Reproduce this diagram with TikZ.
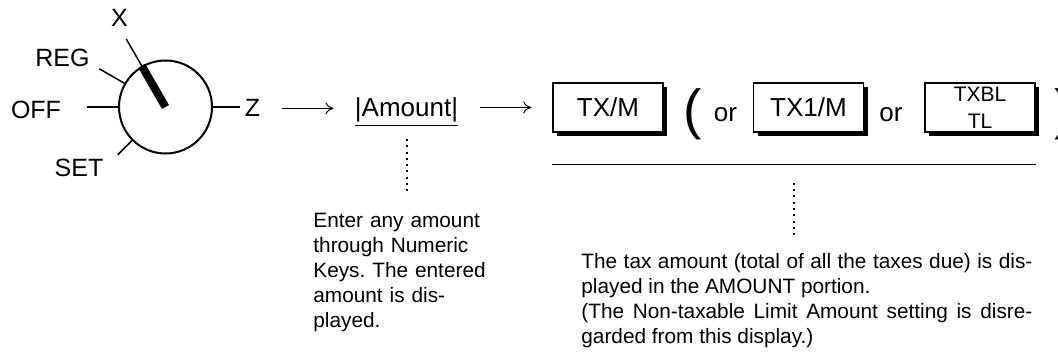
\documentclass[tikz,border=0pt]{standalone}
\usepackage{fontspec}
\setmainfont{Liberation Sans}
\usetikzlibrary{arrows.meta,positioning,shadows}
\frenchspacing

\begin{document}
\begin{tikzpicture}[x=0.5pt,y=-0.5pt,every node/.style={inner sep=0pt,font=\fontsize{12.5}{15}\selectfont},
 key/.style={draw,line width=0.75pt,fill=white,minimum width=55pt,minimum height=24.5pt,font=\fontsize{13}{15}\selectfont,
  drop shadow={shadow xshift=2pt,shadow yshift=-2pt,fill=black,opacity=1}},
 tick/.style={line width=0.75pt},
 arr/.style={-{To[length=4pt,width=6pt]},line width=0.5pt,shorten <=10.75pt,shorten >=10.5pt},
 dotline/.style={line width=1pt,dash pattern=on 1pt off 2.15pt},
 note/.style={anchor=north west,font=\fontsize{10.4}{12.5}\selectfont},
 paren/.style={anchor=base,font=\fontsize{27.5}{30}\selectfont}]
\useasboundingbox (0,0) rectangle (1058,353);
\node[circle,draw,line width=1pt,minimum size=46.5pt] (dial) at (165.5,107) {};
\draw[line width=4pt] (dial.center) -- (dial.120);
\draw[tick] (dial.120) -- ++(120:15.5pt);\draw[tick] (dial.150) -- ++(150:14.5pt);
\draw[tick] (dial.180) -- ++(180:15.5pt);\draw[tick] (dial.225) -- ++(225:10pt);
\draw[tick] (dial.0) -- ++(0:13.5pt);
\node[anchor=base] (x) at (119.5,27) {X};
\node[anchor=base] (reg) at (62.5,67) {REG};
\node[anchor=base] (off) at (36,119) {OFF};
\node[anchor=base] (set) at (79,176) {SET};
\node[anchor=base] (z) at (252.5,117) {Z};
\node[anchor=base,font=\fontsize{13}{15}\selectfont] (amount) at (406.5,117) {\underline{|Amount|}};
\node[key] (txm) at (608,107.5) {TX/M};
\node[paren] (lp) at (692.5,128.5) {(};
\node[anchor=base,font=\fontsize{13}{15}\selectfont] (or1) at (725.5,121) {or};
\node[key,right=44.5pt of txm] (tx1m) {TX1/M};
\node[anchor=base,font=\fontsize{13}{15}\selectfont] (or2) at (891,121) {or};
\node[key,right=30pt of tx1m,align=center,font=\fontsize{10.5}{13.5}\selectfont] (txbl) {TXBL\\TL};
\node[paren] (rp) at (1063.5,128.5) {)};
\draw[arr] (z.east) -- (amount.west |- z.east);
\draw[arr] (amount.east |- txm) -- (txm);
\draw[line width=0.6pt] ([yshift=-16pt]txm.south west) -- node[coordinate] (rm) {} ([yshift=-16pt]txbl.south east);
\node[note,text width=90pt,align=left] (note1) at (313,213) {Enter any amount\\through Numeric\\Keys. The entered\\amount is dis-\\played.};
\node[note,text width=225.5pt,align=justify] (note2) at (581,253) {The tax amount (total of all the taxes due) is dis-\linebreak played in the AMOUNT portion.\\(The Non-taxable Limit Amount setting is disre-\linebreak garded from this display.)};
\draw[dotline,shorten <=6pt,shorten >=10pt] (amount.south) -- (amount.south |- note1.north);
\draw[dotline,shorten <=9pt,shorten >=8pt] (rm) -- (rm |- note2.north);
\end{tikzpicture}
\end{document}
